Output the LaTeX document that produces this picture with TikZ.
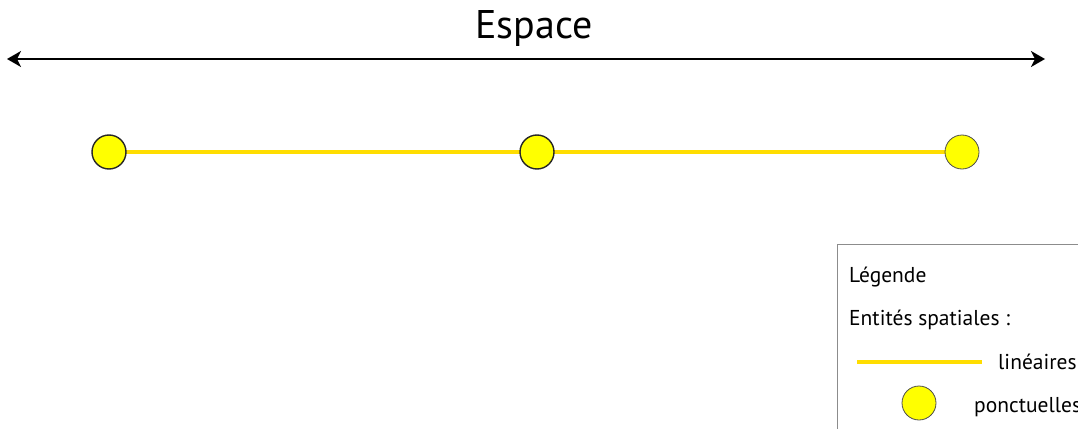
\documentclass[tikz,border=0pt]{standalone}
\usepackage{fontspec}
\setmainfont{PT Sans}
\usetikzlibrary{arrows.meta}
\definecolor{lineyellow}{RGB}{255,221,0}
\definecolor{dotyellow}{RGB}{255,255,0}
\tikzset{
  entity/.style={circle, draw=black!85, line width=1.4pt, fill=dotyellow, minimum size=34pt, inner sep=0pt},
  entitythin/.style={circle, draw=black!70, line width=0.8pt, fill=dotyellow, minimum size=34pt, inner sep=0pt},
  linear/.style={draw=lineyellow, line width=4pt},
  legtext/.style={anchor=base west, inner sep=0pt, font=\fontsize{21.5}{26}\selectfont},
}
\begin{document}
\begin{tikzpicture}[x=1pt,y=-1pt]
\useasboundingbox (0,0) rectangle (1078,428);
\clip (0,0) rectangle (1078,428);
% title and axis
\node[anchor=base, inner sep=0pt, font=\fontsize{40}{46}\selectfont] (title) at (534,39) {Espace};
\coordinate (aL) at (7,59);
\coordinate (aR) at (1045,59);
\draw[line width=1.6pt, {Stealth[length=14pt,width=16pt,inset=4pt]}-{Stealth[length=14pt,width=16pt,inset=4pt]}] (aL) -- (aR);
% entities
\coordinate (c1) at (109,152);
\coordinate (c2) at (537,152);
\coordinate (c3) at (962,152);
\draw[linear] (c1) -- (c3);
\node[entity] (p1) at (c1) {};
\node[entity] (p2) at (c2) {};
\node[entitythin] (p3) at (c3) {};
% legend
\draw[draw=black!45, line width=1pt] (837,1200) -- (837,244) -- (1200,244);
\node[legtext] (leg) at (849,282) {Légende};
\node[legtext] (ent) at (849,325) {Entités spatiales :};
\coordinate (l1) at (857,362);
\coordinate (l2) at (982,362);
\draw[linear] (l1) -- (l2);
\node[legtext] (lin) at (998,369) {linéaires};
\node[entitythin] (lp) at (919,403) {};
\node[legtext] (pon) at (974,412) {ponctuelles};
\end{tikzpicture}
\end{document}
